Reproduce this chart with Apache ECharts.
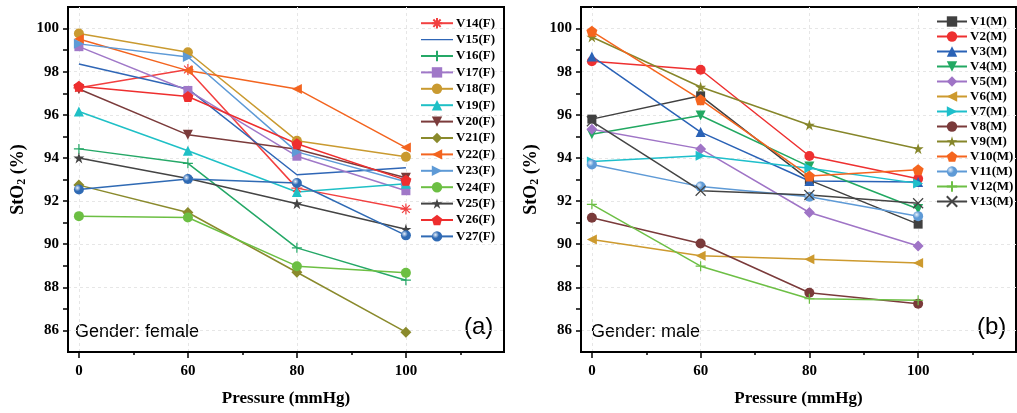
<!DOCTYPE html>
<html>
<head>
<meta charset="utf-8">
<script src="https://cdn.jsdelivr.net/npm/echarts@6/dist/echarts.min.js"></script>
<style>
  html, body { margin: 0; padding: 0; background: #fff; }
  #chart { width: 1017px; height: 413px; }
</style>
</head>
<body>
<div id="chart"></div>
<script>
// x positions (evenly spaced) and the pressure labels shown under them
var xPos = [0, 1, 2, 3];
var pressureLabels = ['0', '60', '80', '100'];
var stoTicks = [86, 88, 90, 92, 94, 96, 98, 100];
var stoMinorTicks = [87, 89, 91, 93, 95, 97, 99];

// female, StO2 (%) at 0 / 60 / 80 / 100 mmHg
var femaleNames = ['V14(F)', 'V15(F)', 'V16(F)', 'V17(F)', 'V18(F)', 'V19(F)', 'V20(F)',
    'V21(F)', 'V22(F)', 'V23(F)', 'V24(F)', 'V25(F)', 'V26(F)', 'V27(F)'];
var v14f = [97.25, 98.10, 92.60, 91.63];
var v15f = [98.36, 97.20, 93.22, 93.55];
var v16f = [94.42, 93.75, 89.83, 88.33];
var v17f = [99.16, 97.13, 94.08, 92.48];
var v18f = [99.77, 98.90, 94.80, 94.05];
var v19f = [96.15, 94.33, 92.42, 92.80];
var v20f = [97.20, 95.07, 94.40, 93.08];
var v21f = [92.74, 91.47, 88.70, 85.92];
var v22f = [99.52, 98.05, 97.20, 94.48];
var v23f = [99.29, 98.68, 94.28, 92.90];
var v24f = [91.30, 91.24, 88.98, 88.67];
var v25f = [94.00, 93.05, 91.88, 90.69];
var v26f = [97.32, 96.85, 94.66, 92.97];
var v27f = [92.54, 93.02, 92.84, 90.41];
var femaleValues = [v14f, v15f, v16f, v17f, v18f, v19f, v20f, v21f, v22f, v23f, v24f, v25f, v26f, v27f];

// male
var maleNames = ['V1(M)', 'V2(M)', 'V3(M)', 'V4(M)', 'V5(M)', 'V6(M)', 'V7(M)',
    'V8(M)', 'V9(M)', 'V10(M)', 'V11(M)', 'V12(M)', 'V13(M)'];
var v1m = [95.80, 96.88, 92.97, 90.93];
var v2m = [98.48, 98.09, 94.09, 93.03];
var v3m = [98.71, 95.20, 92.93, 92.88];
var v4m = [95.10, 95.97, 93.60, 91.63];
var v5m = [95.33, 94.42, 91.47, 89.92];
var v6m = [90.22, 89.46, 89.30, 89.13];
var v7m = [93.83, 94.10, 93.52, 92.82];
var v8m = [91.23, 90.03, 87.75, 87.24];
var v9m = [99.61, 97.29, 95.53, 94.43];
var v10m = [99.87, 96.70, 93.16, 93.45];
var v11m = [93.70, 92.67, 92.20, 91.30];
var v12m = [91.85, 88.98, 87.47, 87.40];
var v13m = [95.70, 92.48, 92.28, 91.90];
var maleValues = [v1m, v2m, v3m, v4m, v5m, v6m, v7m, v8m, v9m, v10m, v11m, v12m, v13m];

var SERIF = '"Liberation Serif", "Times New Roman", serif';
var SANS = '"Liberation Sans", Arial, sans-serif';

var SYM = {
    asterisk: 'path://M5,0L5,10M0,5L10,5M1.5,1.5L8.5,8.5M8.5,1.5L1.5,8.5',
    plus: 'path://M5,0L5,10M0,5L10,5',
    cross: 'path://M0,0L10,10M10,0L0,10',
    down: 'path://M0,0L10,0L5,9Z',
    left: 'path://M0,5L9,0L9,10Z',
    right: 'path://M0,0L9,5L0,10Z',
    star: 'path://M5,0L6.18,3.62L10,3.62L6.9,5.86L8.09,9.51L5,7.24L1.91,9.51L3.1,5.86L0,3.62L3.82,3.62Z',
    pentagon: 'path://M5,0L10,3.8L8.1,10L1.9,10L0,3.8Z'
};
// plain line legend icon (tiny specks keep the bounding box full height)
var LINE_ICON = 'path://M0,0L0.01,0L0.01,0.01Z M0,5.8L32,5.8L32,7.2L0,7.2Z M0,12.99L0.01,12.99L0.01,13Z';

function sphere(c) {
    return {
        type: 'radial', x: 0.35, y: 0.35, r: 0.75,
        colorStops: [{offset: 0, color: '#e8f0fa'}, {offset: 0.45, color: c}, {offset: 1, color: c}]
    };
}

var femaleStyle = [
    {color: '#F24040', symbol: SYM.asterisk, stroke: true, size: 11},
    {color: '#2F66B6', symbol: 'none'},
    {color: '#25A867', symbol: SYM.plus, stroke: true, size: 10},
    {color: '#A078C8', symbol: 'rect', size: 9},
    {color: '#C99A30', symbol: 'circle', size: 10},
    {color: '#1FC0C6', symbol: 'triangle', size: 10},
    {color: '#7B3B3B', symbol: SYM.down, size: 10},
    {color: '#8A8A2C', symbol: 'diamond', size: 11},
    {color: '#F3641F', symbol: SYM.left, size: 10},
    {color: '#5E9AD6', symbol: SYM.right, size: 10},
    {color: '#6CBF43', symbol: 'circle', size: 10},
    {color: '#444444', symbol: SYM.star, size: 11},
    {color: '#EE2E2E', symbol: SYM.pentagon, size: 11},
    {color: '#2F6AB4', symbol: 'circle', size: 10, sphere: true}
];
var maleStyle = [
    {color: '#404040', symbol: 'rect', size: 9},
    {color: '#EE3030', symbol: 'circle', size: 10},
    {color: '#2A62B6', symbol: 'triangle', size: 10},
    {color: '#22A862', symbol: SYM.down, size: 10},
    {color: '#9F74C6', symbol: 'diamond', size: 11},
    {color: '#CD9A2E', symbol: SYM.left, size: 10},
    {color: '#1EBFCB', symbol: SYM.right, size: 10},
    {color: '#7A3A3A', symbol: 'circle', size: 10},
    {color: '#86862A', symbol: SYM.star, size: 11},
    {color: '#F5651E', symbol: SYM.pentagon, size: 11},
    {color: '#5E9AD6', symbol: 'circle', size: 10, sphere: true},
    {color: '#6DBF45', symbol: SYM.plus, stroke: true, size: 10},
    {color: '#444444', symbol: SYM.cross, stroke: true, size: 10}
];

function makeSeries(name, vals, st, axisIdx) {
    var itemStyle;
    if (st.stroke) {
        itemStyle = {color: st.color, borderColor: st.color, borderWidth: 1.2};
    } else if (st.sphere) {
        itemStyle = {color: sphere(st.color)};
    } else {
        itemStyle = {color: st.color};
    }
    return {
        name: name,
        type: 'line',
        xAxisIndex: axisIdx,
        yAxisIndex: axisIdx,
        data: xPos.map(function (x, i) { return [x, vals[i]]; }),
        symbol: st.symbol,
        symbolSize: st.size || 10,
        showAllSymbol: true,
        lineStyle: {color: st.color, width: 1.5},
        itemStyle: itemStyle,
        emphasis: {disabled: true}
    };
}

function xMain(gi) {
    return {
        type: 'value', gridIndex: gi, min: -0.1, max: 3.9, position: 'bottom',
        axisLine: {show: true, onZero: false, lineStyle: {color: '#000', width: 2}},
        axisTick: {show: true, customValues: xPos, length: 6, lineStyle: {color: '#000', width: 1.5}},
        axisLabel: {
            customValues: xPos, margin: 12, color: '#000',
            fontFamily: SERIF, fontWeight: 'bold', fontSize: 15,
            formatter: function (v) { return pressureLabels[Math.round(v)]; }
        },
        splitLine: {show: true, lineStyle: {color: '#e6e6e6', type: [3, 3], width: 1}},
        name: 'Pressure (mmHg)', nameLocation: 'middle', nameGap: 38,
        nameTextStyle: {color: '#000', fontFamily: SERIF, fontWeight: 'bold', fontSize: 17}
    };
}
function xMinor(gi) {
    return {
        type: 'value', gridIndex: gi, min: -0.1, max: 3.9, position: 'bottom',
        axisLine: {show: false, onZero: false},
        axisTick: {show: true, customValues: [0.5, 1.5, 2.5, 3.5], length: 3, lineStyle: {color: '#000', width: 1.5}},
        axisLabel: {show: false},
        splitLine: {show: false}
    };
}
function yMain(gi) {
    return {
        type: 'value', gridIndex: gi, min: 85, max: 101, position: 'left',
        axisLine: {show: true, onZero: false, lineStyle: {color: '#000', width: 2}},
        axisTick: {show: true, customValues: stoTicks, length: 5, lineStyle: {color: '#000', width: 1.5}},
        axisLabel: {
            customValues: stoTicks, margin: 9, color: '#000',
            fontFamily: SERIF, fontWeight: 'bold', fontSize: 15
        },
        splitLine: {show: true, lineStyle: {color: '#e6e6e6', type: [3, 3], width: 1}},
        name: '{b|StO}{s|2}{b| (%)}', nameLocation: 'middle', nameGap: 40,
        nameTextStyle: {
            rich: {
                b: {color: '#000', fontFamily: SERIF, fontWeight: 'bold', fontSize: 18},
                s: {color: '#000', fontFamily: SERIF, fontWeight: 'bold', fontSize: 12, padding: [8, 0, 0, 0]}
            }
        }
    };
}
function yMinor(gi) {
    return {
        type: 'value', gridIndex: gi, min: 85, max: 101, position: 'left',
        axisLine: {show: false, onZero: false},
        axisTick: {show: true, customValues: stoMinorTicks, length: 5, lineStyle: {color: '#000', width: 1.5}},
        axisLabel: {show: false},
        splitLine: {show: false}
    };
}

function makeLegend(names, styles, left, top, lineH, iconW) {
    return {
        data: names.map(function (n, i) {
            return styles[i].symbol === 'none' ? {name: n, icon: LINE_ICON} : {name: n};
        }),
        orient: 'vertical', left: left, top: top,
        itemWidth: iconW, itemHeight: 13, itemGap: 0, padding: 0,
        selectedMode: false,
        textStyle: {color: '#000', fontFamily: SERIF, fontWeight: 'bold', fontSize: 13, lineHeight: lineH, padding: [0, 0, 0, -2]}
    };
}

var series = [];
femaleNames.forEach(function (n, i) { series.push(makeSeries(n, femaleValues[i], femaleStyle[i], 0)); });
maleNames.forEach(function (n, i) { series.push(makeSeries(n, maleValues[i], maleStyle[i], 2)); });
// minor-tick axes need to be referenced; tie them with empty series
series.push({type: 'line', xAxisIndex: 1, yAxisIndex: 1, data: [], silent: true});
series.push({type: 'line', xAxisIndex: 3, yAxisIndex: 3, data: [], silent: true});

var chart = echarts.init(document.getElementById('chart'), null, {renderer: 'canvas'});
chart.setOption({
    animation: false,
    backgroundColor: '#fff',
    grid: [
        {left: 68, top: 7, width: 436, height: 345, show: true, borderColor: '#000', borderWidth: 2, backgroundColor: 'transparent', z: 0},
        {left: 581, top: 7, width: 435, height: 345, show: true, borderColor: '#000', borderWidth: 2, backgroundColor: 'transparent', z: 0}
    ],
    xAxis: [xMain(0), xMinor(0), xMain(1), xMinor(1)],
    yAxis: [yMain(0), yMinor(0), yMain(1), yMinor(1)],
    legend: [
        makeLegend(femaleNames, femaleStyle, 420, 15, 16.4, 32),
        makeLegend(maleNames, maleStyle, 936, 14, 15, 30)
    ],
    graphic: [
        {type: 'text', left: 75, top: 323, style: {text: 'Gender: female', font: '18px ' + SANS, fill: '#000'}},
        {type: 'text', left: 464, top: 315, style: {text: '(a)', font: '24px ' + SANS, fill: '#000'}},
        {type: 'text', left: 591, top: 323, style: {text: 'Gender: male', font: '18px ' + SANS, fill: '#000'}},
        {type: 'text', left: 977, top: 315, style: {text: '(b)', font: '24px ' + SANS, fill: '#000'}}
    ],
    series: series
});
</script>
</body>
</html>
